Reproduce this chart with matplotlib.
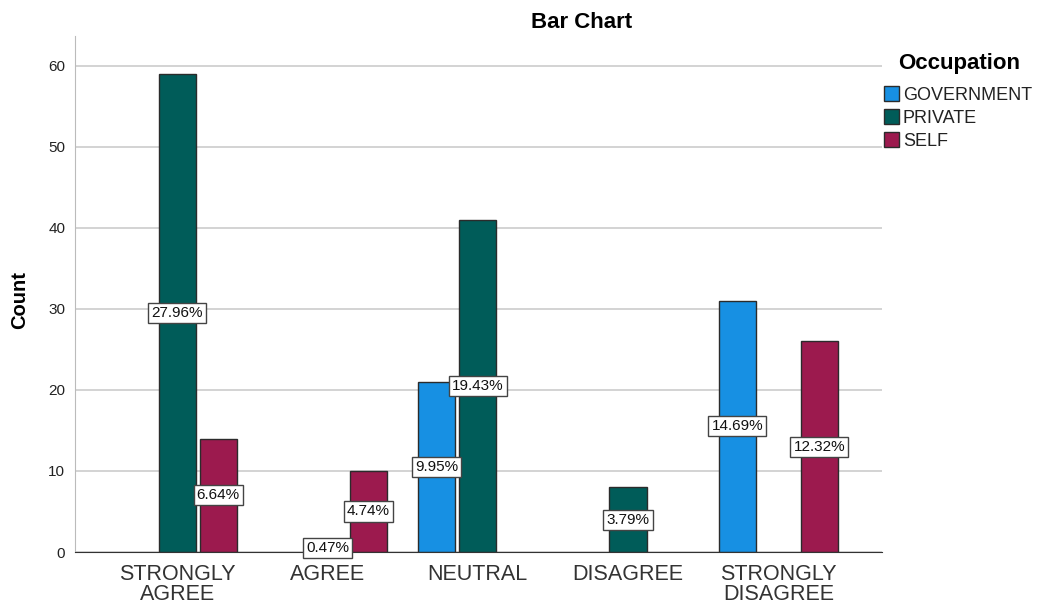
import matplotlib.pyplot as plt
import numpy as np
from matplotlib.patches import Patch

plt.rcParams['font.family'] = ['Liberation Sans', 'DejaVu Sans']

# data
kategorien = ["STRONGLY\nAGREE", "AGREE", "NEUTRAL", "DISAGREE", "STRONGLY\nDISAGREE"]
serien = ["GOVERNMENT", "PRIVATE", "SELF"]
government = [0, 0, 21, 0, 31]
private = [59, 1, 41, 8, 0]
self_emp = [14, 10, 0, 0, 26]
farben = ["#1790e3", "#005c59", "#9c1a4e"]

werte = [government, private, self_emp]
gesamt = sum(sum(w) for w in werte)

fig = plt.figure(figsize=(10.38, 6.07), dpi=100)
ax = fig.add_axes([75 / 1038, 1 - 552 / 607, (882 - 75) / 1038, (552 - 36) / 607])

x = np.arange(len(kategorien))
schritt = 0.273
breite = 0.247

for i, (w, farbe) in enumerate(zip(werte, farben)):
    w = np.array(w)
    pos = x + (i - 1) * schritt
    maske = w > 0
    ax.bar(pos[maske], w[maske], width=breite, color=farbe,
           edgecolor="#2b2b2b", linewidth=1.0, zorder=3)
    for xp, v in zip(pos[maske], w[maske]):
        ax.text(xp, v / 2, f"{v / gesamt * 100:.2f}%", ha="center", va="center",
                fontsize=11, color="#111111", zorder=5,
                bbox=dict(boxstyle="square,pad=0.2", facecolor="white",
                          edgecolor="#444444", linewidth=1.0))

ax.set_xlim(-0.68, 4.69)
ax.set_ylim(0, 63.7)
ax.set_yticks([0, 10, 20, 30, 40, 50, 60])
ax.set_xticks(x)
ax.set_xticklabels(kategorien, fontsize=15.5, color="#333333", linespacing=0.9)
ax.tick_params(axis="y", length=0, labelsize=11, pad=7, colors="#222222")
ax.tick_params(axis="x", length=0, pad=9)
ax.grid(axis="y", color="#cccccc", linewidth=1.2, zorder=0)
ax.set_axisbelow(True)

for s in ["top", "right"]:
    ax.spines[s].set_visible(False)
ax.spines["left"].set_color("#bbbbbb")
ax.spines["bottom"].set_color("#333333")
ax.spines["bottom"].set_zorder(4)

fig.text(20 / 1038, 1 - 300 / 607, "Count", rotation=90, ha="center", va="center",
         fontsize=14.5, fontweight="bold")
fig.text(582 / 1038, 1 - 22 / 607, "Bar Chart", ha="center", va="center",
         fontsize=16, fontweight="bold")

# legend
fig.text(898 / 1038, 1 - 63 / 607, "Occupation", ha="left", va="center",
         fontsize=16, fontweight="bold")
handles = [Patch(facecolor=f, edgecolor="#2b2b2b", linewidth=1.0) for f in farben]
leg = fig.legend(handles, serien, loc="upper left",
                 bbox_to_anchor=(884 / 1038, 1 - 86 / 607), frameon=False,
                 fontsize=13, handlelength=0.85, handleheight=0.9,
                 handletextpad=0.2, labelspacing=0.3, borderpad=0, borderaxespad=0)
for t in leg.get_texts():
    t.set_color("#222222")

plt.savefig("out.png", dpi=100)
